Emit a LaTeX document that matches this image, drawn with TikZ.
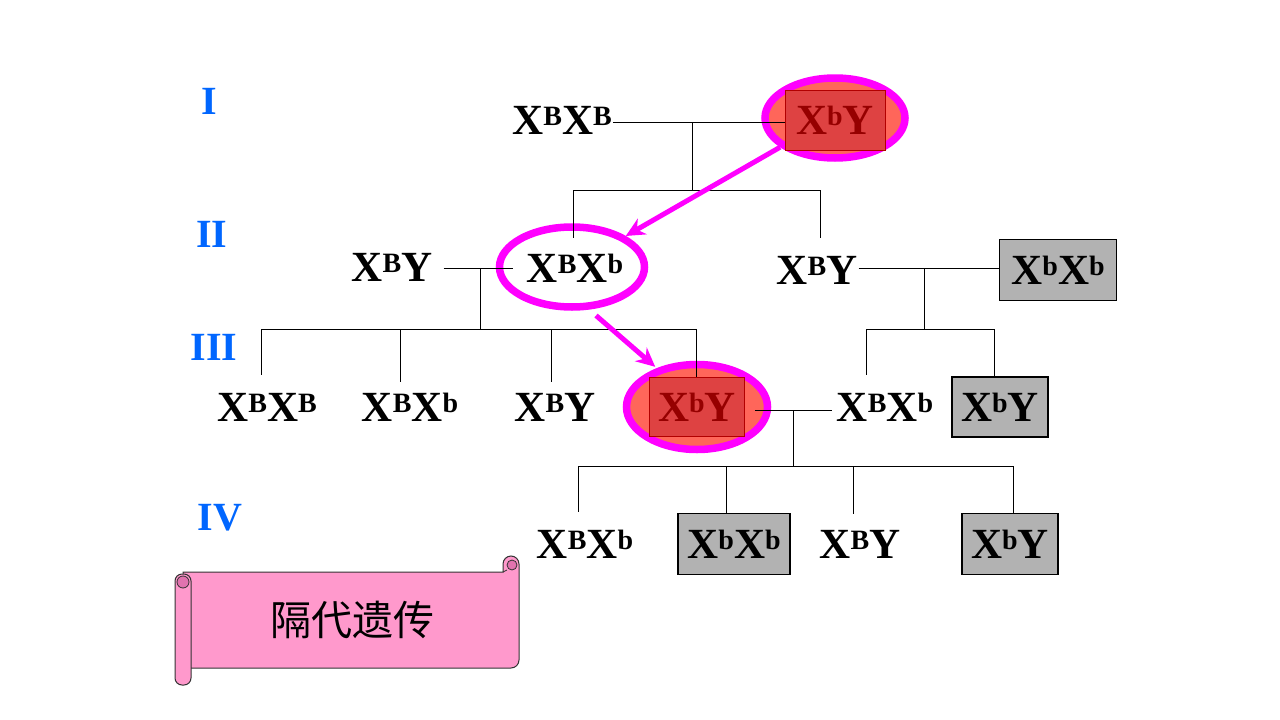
\documentclass[tikz,border=0pt]{standalone}
\usepackage{fontspec}
\setmainfont{Liberation Serif}
\newfontfamily\cjk{Noto Sans CJK SC}
\usetikzlibrary{shapes.geometric,arrows.meta}
\definecolor{ellfill}{RGB}{255,102,90}
\definecolor{redbox}{RGB}{222,66,66}
\definecolor{redtext}{RGB}{150,0,0}
\definecolor{graybox}{RGB}{178,178,178}
\definecolor{numblue}{RGB}{0,102,255}
\definecolor{scrollpink}{RGB}{255,153,204}
\definecolor{curlpink}{RGB}{225,115,175}
\definecolor{mag}{RGB}{255,0,255}
\newcommand\sps[1]{\raisebox{9pt}{\fontsize{28}{28}\selectfont #1}}
\tikzset{
  gt/.style={font=\fontsize{43}{43}\selectfont\bfseries, inner sep=1pt},
  graycell/.style={gt, draw=black, line width=1.1pt, fill=graybox, inner sep=0pt},
  redcell/.style={gt, draw=red!70!black, line width=0.6pt, fill=redbox, text=redtext, inner sep=0pt},
  ring/.style={ellipse, draw=mag, line width=7.5pt, inner sep=0pt},
  gen/.style={font=\fontsize{40}{40}\selectfont\bfseries, text=numblue},
  link/.style={draw=black, line width=1pt},
  marrow/.style={draw=mag, line width=5pt, -{Stealth[length=19pt,width=18pt]}},
  scroll/.style={draw=black!80, line width=1pt, fill=scrollpink},
}
\begin{document}
\begin{tikzpicture}[x=1pt,y=-1pt]
\path[use as bounding box] (0,0) rectangle (1280,720);

% generation labels
\node[gen] (g1) at (209,101) {I};
\node[gen] (g2) at (212,234) {II};
\node[gen] (g3) at (214,347) {III};
\node[gen] (g4) at (220,518) {IV};

% highlight ellipses
\node[ring, fill=ellfill, minimum width=140pt, minimum height=80pt] (e1) at (835,118) {};
\node[ring, fill=white, minimum width=145pt, minimum height=80pt] (e2) at (572,267) {};
\node[ring, fill=ellfill, minimum width=141pt, minimum height=85pt] (e3) at (697,407) {};

% generation I
\node[gt] (i1) at (562,120) {X\sps{B}X\sps{B}};
\node[redcell, minimum width=100pt, minimum height=60pt] (i2) at (835,120) {X\sps{b}Y};

% generation II
\node[gt] (ii1) at (392,267) {X\sps{B}Y};
\node[gt] (ii2) at (575,268) {X\sps{B}X\sps{b}};
\node[gt] (ii3) at (817,270) {X\sps{B}Y};
\node[graycell, minimum width=117pt, minimum height=61pt] (ii4) at (1058,270) {X\sps{b}X\sps{b}};

% generation III
\node[gt] (iii1) at (267,407) {X\sps{B}X\sps{B}};
\node[gt] (iii2) at (410,407) {X\sps{B}X\sps{b}};
\node[gt] (iii3) at (555,407) {X\sps{B}Y};
\node[redcell, minimum width=95pt, minimum height=59pt] (iii4) at (697,407) {X\sps{b}Y};
\node[gt] (iii5) at (885,407) {X\sps{B}X\sps{b}};
\node[graycell, minimum width=96pt, minimum height=60pt] (iii6) at (1000,407) {X\sps{b}Y};

% generation IV
\node[gt] (iv1) at (585,544) {X\sps{B}X\sps{b}};
\node[graycell, minimum width=112pt, minimum height=61pt] (iv2) at (734,544) {X\sps{b}X\sps{b}};
\node[gt] (iv3) at (860,544) {X\sps{B}Y};
\node[graycell, minimum width=96pt, minimum height=61pt] (iv4) at (1010,544) {X\sps{b}Y};

% junction coordinates
\coordinate (m1) at (692,122);
\coordinate (b1l) at (573,190);
\coordinate (b1r) at (820,190);
\coordinate (m2) at (480,268);
\coordinate (b2l) at (261,329);
\coordinate (b2r) at (696,329);
\coordinate (m3) at (924,268);
\coordinate (b3l) at (866,329);
\coordinate (b3r) at (994,329);
\coordinate (m4) at (793,410);
\coordinate (b4l) at (578,466);
\coordinate (b4r) at (1013,466);

% family I
\draw[link] (i1.east |- m1) -- (i2.west |- m1);
\draw[link] (m1) -- (m1 |- b1l);
\draw[link] (b1l) -- (b1r);
\draw[link] (b1l) -- ++(0,48);
\draw[link] (b1r) -- ++(0,48);

% family II left
\draw[link, shorten <=10pt, shorten >=13pt] (ii1.east |- m2) -- (ii2.west |- m2);
\draw[link] (m2) -- (m2 |- b2l);
\draw[link] (b2l) -- (b2r);
\draw[link] (b2l) -- ++(0,46);
\draw[link] (iii2.north |- b2l) ++(-10,0) -- ++(0,53);
\draw[link] (551,329) -- ++(0,53);
\draw[link] (b2r) -- (b2r |- iii4.north);

% family II right
\draw[link] (ii3.east |- m3) -- (ii4.west |- m3);
\draw[link] (m3) -- (m3 |- b3l);
\draw[link] (b3l) -- (b3r);
\draw[link] (b3l) -- ++(0,46);
\draw[link] (b3r) -- (b3r |- iii6.north);

% family III
\draw[link, shorten <=10pt, shorten >=4pt] (iii4.east |- m4) -- (iii5.west |- m4);
\draw[link] (m4) -- (m4 |- b4l);
\draw[link] (b4l) -- (b4r);
\draw[link] (b4l) -- ++(0,46);
\draw[link] (726,466) -- (726,514);
\draw[link] (853,466) -- ++(0,48);
\draw[link] (b4r) -- (b4r |- iv4.north);

% inheritance arrows
\draw[marrow] (e1.208) -- (e2.30);
\draw[marrow, shorten <=9pt, shorten >=2pt] (e2.292) -- (e3.136);

% scroll banner
\draw[scroll, rounded corners=8pt] (183,572) [sharp corners] -- (503,572) [rounded corners=8pt] -- (503,556) -- (519,556) -- (519,668) -- (183,668) [sharp corners] -- cycle;
\draw[draw=black!80, line width=0.8pt, fill=curlpink] (512,565) circle (5pt);
\draw[draw=black!80, line width=0.8pt] (503,572) -- (507,570);
\draw[scroll, rounded corners=7pt] (175,574) rectangle (191,685);
\draw[draw=black!80, line width=0.8pt, fill=curlpink] (183,582) circle (6pt);
\node[font=\cjk\fontsize{41}{41}\selectfont] (title) at (352,620) {隔代遗传};
\end{tikzpicture}
\end{document}
